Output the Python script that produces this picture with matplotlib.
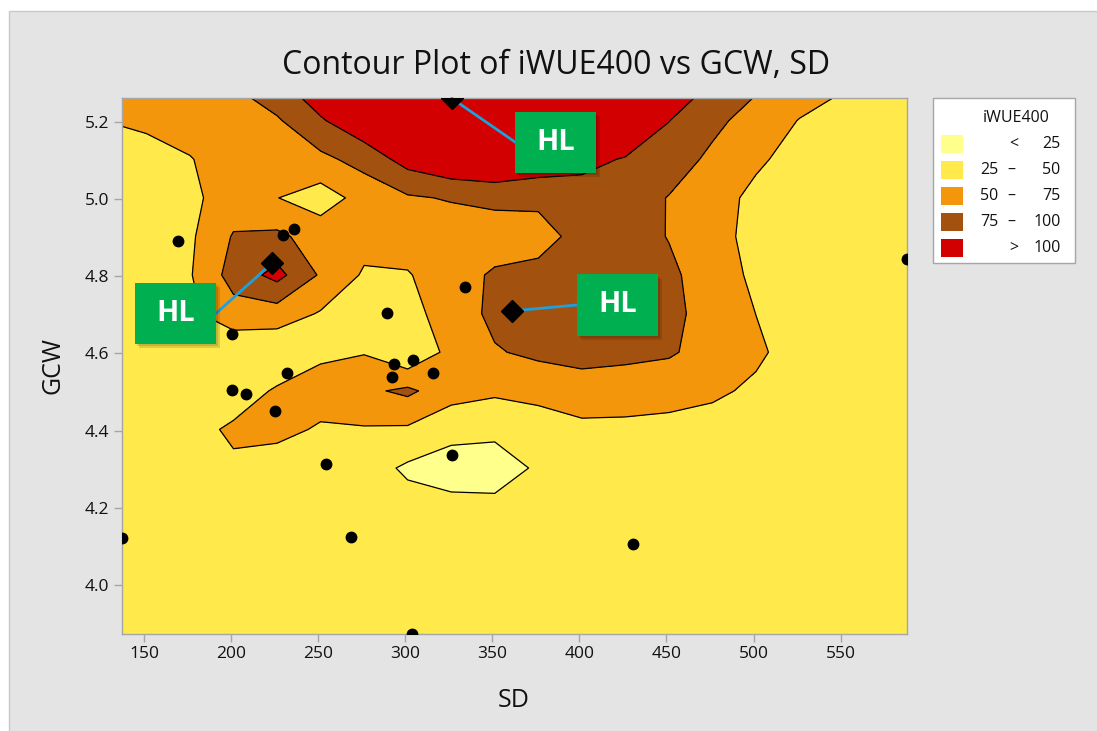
import numpy as np
import matplotlib
matplotlib.use("Agg")
import matplotlib.pyplot as plt
from matplotlib.patches import Rectangle
from matplotlib.offsetbox import AnnotationBbox, DrawingArea
from matplotlib.text import Text
from matplotlib.ticker import FormatStrFormatter

plt.rcParams['font.family'] = ['Open Sans', 'DejaVu Sans']

# ---------------- observations ----------------
sd_obs = [169.7, 229.6, 236.1, 200.4, 334.1, 289.5, 293.7, 304.6, 292.6, 315.7,
          231.9, 200.4, 208.6, 225.2, 326.7, 254.5, 268.7, 137.4, 303.7, 430.9, 587.8]
gcw_obs = [4.892, 4.906, 4.922, 4.650, 4.773, 4.705, 4.572, 4.583, 4.538, 4.548,
           4.548, 4.505, 4.495, 4.450, 4.337, 4.313, 4.125, 4.121, 3.873, 4.106, 4.844]

# highlighted points (HL)
sd_hl = [326.7, 223.3, 361.1]
gcw_hl = [5.261, 4.833, 4.710]

# ---------------- fitted iWUE400 surface ----------------
sd_grid = [126.4, 151.4, 176.4, 201.4, 226.4, 251.4, 276.4, 301.4, 326.4, 351.4,
           376.4, 401.4, 426.4, 451.4, 476.4, 501.4, 526.4, 551.4, 576.4, 601.4]
gcw_grid = [5.303, 5.203, 5.103, 5.003, 4.903, 4.803, 4.703, 4.603,
            4.503, 4.403, 4.303, 4.203, 4.103, 4.003, 3.903, 3.803]
iwue_grid = [
    [59, 61, 68, 76, 95, 122, 150, 150, 150, 150, 150, 150, 150, 129, 99, 80, 65, 53, 42, 38],
    [50, 54, 59, 66, 72, 97, 120, 143, 150, 150, 150, 146, 130, 100.5, 81, 65, 49, 41, 38, 38],
    [39, 42, 49, 60, 63, 69, 84, 110, 124, 127, 118, 108, 98, 87, 70, 54, 41, 38, 38, 38],
    [38, 38, 45, 61, 50.5, 38, 59, 72, 77, 82, 80, 88, 87, 74, 60, 44, 38, 38, 38, 38],
    [38, 38, 46, 77, 80, 64, 59, 60, 60, 60, 66, 83, 86, 74, 58, 43, 38, 38, 38, 38],
    [38, 38, 48, 85, 108, 72, 47, 48.5, 62, 79, 82, 86, 87.5, 80, 62.5, 45, 38, 38, 38, 38],
    [38, 38, 45, 65, 63, 48, 39, 42, 61, 81, 87, 87.5, 87.5, 81, 66, 49.8, 38, 38, 38, 38],
    [38, 38, 40, 30, 30, 46.5, 48.6, 27, 58, 73, 80, 83, 81, 78, 65, 54, 40, 38, 38, 38],
    [38, 38, 38, 37, 53, 58, 70, 80, 60, 54, 58, 64.5, 62.5, 59, 54, 46, 39, 38, 38, 38],
    [38, 38, 41.5, 54, 55, 48, 48, 46.6, 33, 31, 37, 44, 44, 43, 41, 39, 38, 38, 38, 38],
    [38, 38, 40, 46, 41, 39, 36, 21, 13.6, 12.4, 28.6, 38, 38, 38, 38, 38, 38, 38, 38, 38],
    [38, 38, 38, 38, 38, 38, 38, 34, 32, 31.6, 34.6, 38, 38, 38, 38, 38, 38, 38, 38, 38],
    [38, 38, 38, 38, 38, 38, 38, 37, 36, 36, 37, 38, 38, 38, 38, 38, 38, 38, 38, 38],
    [38, 38, 38, 38, 38, 38, 38, 38, 38, 38, 38, 38, 38, 38, 38, 38, 38, 38, 38, 38],
    [38, 38, 38, 38, 38, 38, 38, 38, 38, 38, 38, 38, 38, 38, 38, 38, 38, 38, 38, 38],
    [38, 38, 38, 38, 38, 38, 38, 38, 38, 38, 38, 38, 38, 38, 38, 38, 38, 38, 38, 38],
]

band_edges = [0, 25, 50, 75, 100, 200]
band_colors = ['#FFFF8C', '#FFE94B', '#F4960B', '#A2510F', '#D20000']
x_ticks = [150, 200, 250, 300, 350, 400, 450, 500, 550]
y_ticks = [4.0, 4.2, 4.4, 4.6, 4.8, 5.0, 5.2]
title = "Contour Plot of iWUE400 vs GCW, SD"
legend_title = "iWUE400"

# ---------------- figure ----------------
W, H = 1097, 731
fig = plt.figure(figsize=(W / 100, H / 100), dpi=100, facecolor='white')
fig.patches.append(Rectangle((9 / W, -0.01), 1.0, 1 - 11 / H + 0.01,
                             transform=fig.transFigure, facecolor='#E4E4E4',
                             edgecolor='#C8C8C8', linewidth=1, zorder=-10))

L, R, T, B = 122, 906.5, 98.3, 634
ax = fig.add_axes([L / W, 1 - B / H, (R - L) / W, (B - T) / H])

X = np.array(sd_grid)
Y = np.array(gcw_grid)[::-1]
Z = np.array(iwue_grid)[::-1]
ax.contourf(X, Y, Z, levels=band_edges, colors=band_colors)
ax.contour(X, Y, Z, levels=band_edges[1:-1], colors='black', linewidths=0.9)

ax.plot(sd_obs, gcw_obs, 'o', color='black', ms=7.5, zorder=5)
ax.plot(sd_hl, gcw_hl, 'D', color='black', ms=11.5, zorder=9)

all_sd = sd_obs + sd_hl
all_gcw = gcw_obs + gcw_hl
ax.set_xlim(min(all_sd), max(all_sd))
ax.set_ylim(min(all_gcw), max(all_gcw))

ax.set_xticks(x_ticks)
ax.set_yticks(y_ticks)
ax.yaxis.set_major_formatter(FormatStrFormatter('%.1f'))
ax.tick_params(direction='out', length=6, width=1, color='#A6A6A6',
               labelsize=12.5, labelcolor='#111111', pad=3)
for s in ax.spines.values():
    s.set_color('#A6A6A6')
    s.set_linewidth(1)

fig.text(555.7 / W, 1 - 73.6 / H, title, ha='center', va='baseline',
         fontsize=23, color='#111111')
fig.text(513.8 / W, 1 - 706.8 / H, 'SD', ha='center', va='baseline',
         fontsize=18, color='#111111')
fig.text(53 / W, 1 - 366 / H, 'GCW', ha='center', va='center', rotation=90,
         fontsize=18, color='#111111')

# HL call-out boxes, leader line leaves from the middle of the near edge
hl_offsets = [(104, -44), (-96, -50), (106, 6)]
hl_relpos = [(0.0, 0.5), (1.0, 0.5), (0.0, 0.5)]
for x, y, (dx, dy), rp in zip(sd_hl, gcw_hl, hl_offsets, hl_relpos):
    da = DrawingArea(58, 44, 0, 0)
    da.add_artist(Rectangle((2.8, -3.2), 58, 44, facecolor='black', alpha=0.12,
                            edgecolor='none'))
    da.add_artist(Rectangle((1.4, -1.6), 58, 44, facecolor='black', alpha=0.12,
                            edgecolor='none'))
    da.add_artist(Rectangle((0, 0), 58, 44, facecolor='#00B050', edgecolor='none'))
    da.add_artist(Text(29, 22, 'HL', ha='center', va='center', color='white',
                       fontsize=21, fontweight='bold', fontfamily='Open Sans'))
    ab = AnnotationBbox(da, (x, y), xybox=(dx, dy), boxcoords='offset pixels',
                        frameon=True, pad=0,
                        bboxprops=dict(facecolor='none', edgecolor='none',
                                       boxstyle='square,pad=0'),
                        arrowprops=dict(arrowstyle='-', color='#1EA0DC', lw=2,
                                        shrinkA=0, shrinkB=0, relpos=rp),
                        annotation_clip=False, zorder=8)
    ax.add_artist(ab)

# legend panel
lx0, ly0, lx1, ly1 = 932.7, 98.3, 1075.3, 263.3
lw_, lh_ = lx1 - lx0, ly1 - ly0
lax = fig.add_axes([lx0 / W, 1 - ly1 / H, lw_ / W, lh_ / H])
lax.set_xlim(0, lw_)
lax.set_ylim(lh_, 0)
lax.axis('off')
lax.add_patch(Rectangle((0, 0), lw_, lh_, facecolor='white', edgecolor='#A6A6A6',
                        lw=1, clip_on=False))
lax.text(83.2, 19.2, legend_title, ha='center', va='center', fontsize=11.5,
         color='#111111')
n = len(band_colors)
for i, color in enumerate(band_colors):
    yc = 45.5 + 26 * i
    lax.add_patch(Rectangle((8, yc - 9), 22.6, 18, facecolor=color, edgecolor='none'))
    lo, hi = band_edges[i], band_edges[i + 1]
    kw = dict(va='center', fontsize=11.5, color='#111111')
    if i == 0:
        lax.text(81.3, yc, '<', ha='center', **kw)
        lax.text(128, yc, f'{hi}', ha='right', **kw)
    elif i == n - 1:
        lax.text(81.3, yc, '>', ha='center', **kw)
        lax.text(128, yc, f'{lo}', ha='right', **kw)
    else:
        lax.text(65.6, yc, f'{lo}', ha='right', **kw)
        lax.text(78.8, yc, '\u2013', ha='center', **kw)
        lax.text(128, yc, f'{hi}', ha='right', **kw)

fig.savefig('out.png', dpi=100, facecolor=fig.get_facecolor())
